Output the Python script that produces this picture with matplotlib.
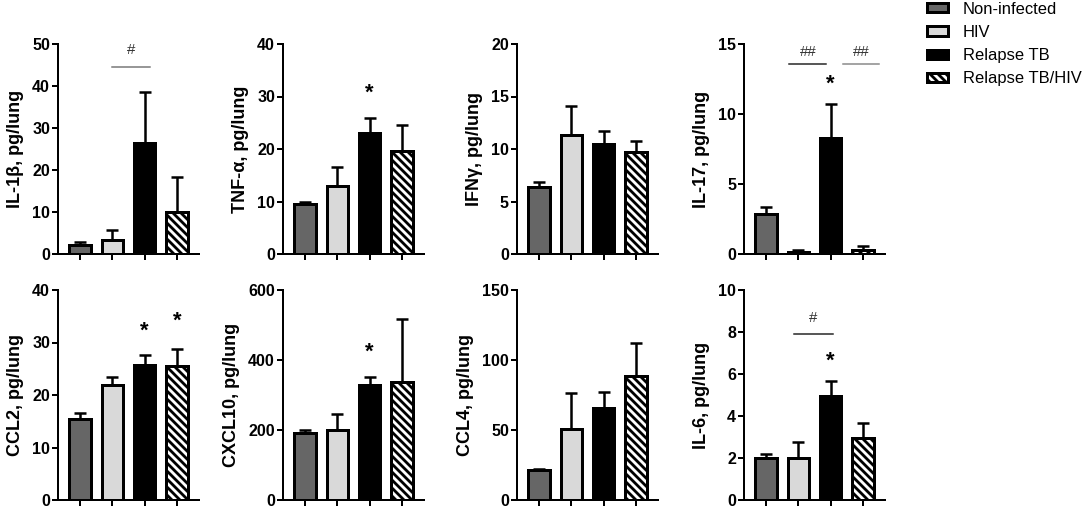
import matplotlib.pyplot as plt
import numpy as np

plt.rcParams['font.family'] = ['Liberation Sans', 'DejaVu Sans']
plt.rcParams['hatch.linewidth'] = 2.8

# groups shown in every panel
groups = ['Non-infected', 'HIV', 'Relapse TB', 'Relapse TB/HIV']
bar_colors = ['#666666', '#d9d9d9', '#000000', '#ffffff']
bar_hatches = ['', '', '', '\\\\\\']

# one entry per panel, top row first
ylabels = ['IL-1β, pg/lung', 'TNF-α, pg/lung', 'IFNγ, pg/lung', 'IL-17, pg/lung',
           'CCL2, pg/lung', 'CXCL10, pg/lung', 'CCL4, pg/lung', 'IL-6, pg/lung']
means = [
    [2.2, 3.3, 26.4, 10.0],
    [9.5, 12.9, 23.0, 19.6],
    [6.35, 11.3, 10.5, 9.7],
    [2.85, 0.11, 8.3, 0.26],
    [15.5, 22.0, 25.8, 25.6],
    [192, 199, 329, 337],
    [21.5, 51, 65.5, 88.8],
    [1.98, 1.98, 4.97, 2.97],
]
sems = [
    [0.6, 2.5, 12.2, 8.4],
    [0.5, 3.7, 3.0, 4.9],
    [0.55, 2.8, 1.2, 1.1],
    [0.5, 0.2, 2.45, 0.33],
    [1.0, 1.5, 1.8, 3.2],
    [7, 46, 22, 179],
    [0.8, 25.6, 11.8, 23.7],
    [0.21, 0.77, 0.7, 0.68],
]
ytops = [50, 40, 20, 15, 40, 600, 150, 10]
ysteps = [10, 10, 5, 5, 10, 200, 50, 2]

# significance marks: (panel, bar, y)
stars = [(1, 2, 30.6), (3, 2, 12.1), (4, 2, 32.2), (4, 3, 34.1), (5, 2, 422), (7, 2, 6.6)]
# comparison lines: (panel, x from, x to, y, text, text y, colour)
brackets = [
    (0, 1.0, 2.15, 44.5, '#', 48.6, '#777777'),
    (3, 0.72, 1.87, 13.6, '##', 14.4, '#222222'),
    (3, 2.37, 3.5, 13.6, '##', 14.4, '#888888'),
    (7, 0.87, 2.06, 7.9, '#', 8.65, '#222222'),
]

W, H = 1084, 508
fig = plt.figure(figsize=(W / 72, H / 72), dpi=72)

lefts = [58, 283, 517, 744]
bottoms = [254, 500]
ax_w, ax_h = 141, 210

x = np.arange(len(groups))
axes = []
for i in range(8):
    row, col = divmod(i, 4)
    ax = fig.add_axes([lefts[col] / W, 1 - bottoms[row] / H, ax_w / W, ax_h / H])
    axes.append(ax)
    bars = ax.bar(x, means[i], width=0.65, color=bar_colors, edgecolor='black',
                  linewidth=3, zorder=3)
    for b, h in zip(bars, bar_hatches):
        b.set_hatch(h)
    if i == 0:
        legend_bars = bars
    ax.errorbar(x, means[i], yerr=[np.zeros(4), sems[i]], fmt='none', ecolor='black',
                elinewidth=2.5, capsize=6, capthick=2.5, zorder=2)

    ticks = np.arange(0, ytops[i] + ysteps[i] / 2, ysteps[i])
    ax.set_ylim(0, ytops[i])
    ax.set_xlim(-0.68, 3.68)
    ax.set_yticks(ticks)
    ax.set_yticklabels([f'{t:g}' for t in ticks], fontsize=16, fontweight='bold')
    ax.set_xticks(x)
    ax.set_xticklabels([])
    ax.tick_params(length=6, width=2, pad=2)
    ax.set_ylabel(ylabels[i], fontsize=18, fontweight='bold', labelpad=8)
    for s in ['top', 'right']:
        ax.spines[s].set_visible(False)
    for s in ['left', 'bottom']:
        ax.spines[s].set_linewidth(2)

for p, b, y in stars:
    axes[p].text(b, y, '*', ha='center', va='center', fontsize=22, fontweight='bold')

for p, x0, x1, y, txt, ty, c in brackets:
    axes[p].plot([x0, x1], [y, y], color=c, lw=1.5, clip_on=False)
    axes[p].text((x0 + x1) / 2, ty, txt, ha='center', va='center', fontsize=15, color='#333333')

fig.legend(legend_bars, groups, loc='upper left', bbox_to_anchor=(925 / W, 1.0),
           frameon=False, fontsize=16.5, handlelength=1.3, handleheight=0.5,
           handletextpad=0.9, labelspacing=0.5, borderpad=0.1, borderaxespad=0)

fig.savefig('out.png', dpi=72)
